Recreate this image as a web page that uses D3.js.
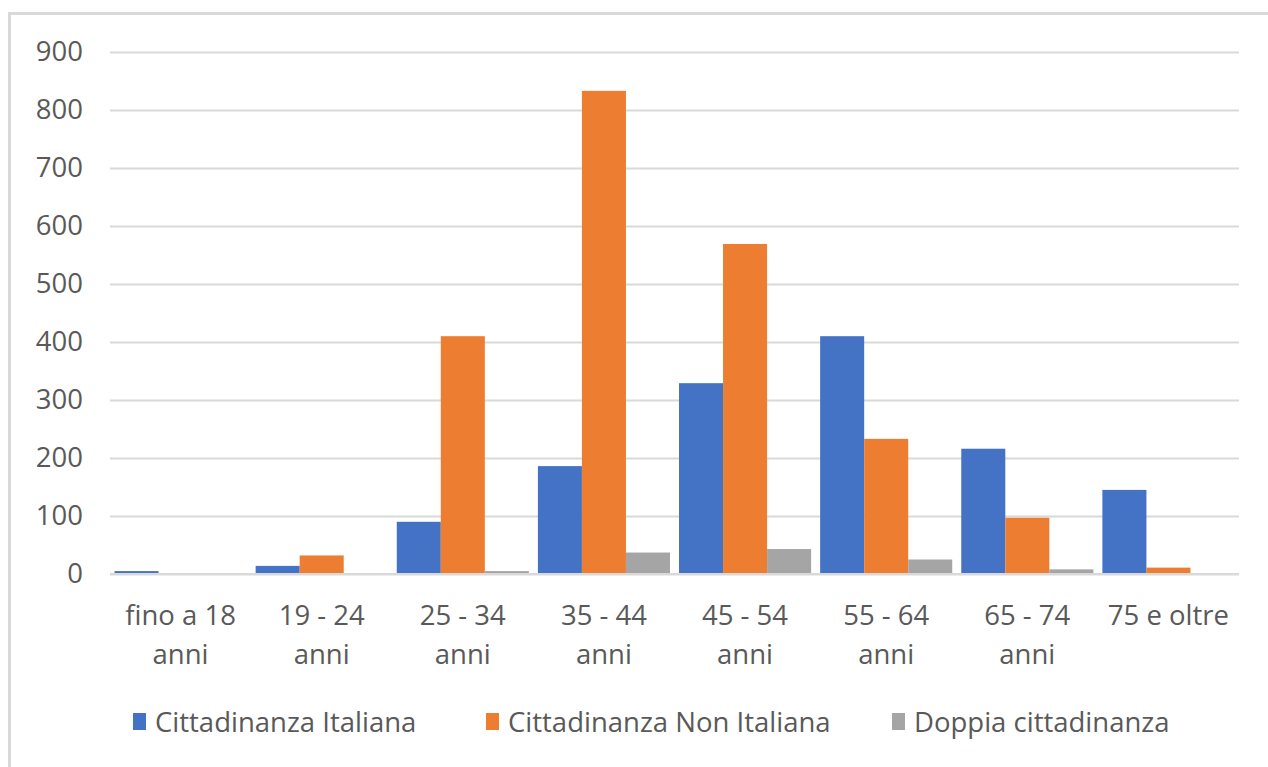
<!DOCTYPE html>
<html>
<head>
<meta charset="utf-8">
<script src="https://cdn.jsdelivr.net/npm/d3@7"></script>
<style>
  body { margin: 0; background: #fff; }
  text { font-family: "Open Sans", sans-serif; fill: #595959; }
</style>
</head>
<body>
<div id="chart"></div>
<script>
const categories = ['fino a 18 anni', '19 - 24 anni', '25 - 34 anni', '35 - 44 anni', '45 - 54 anni', '55 - 64 anni', '65 - 74 anni', '75 e oltre'];
const seriesNames = ['Cittadinanza Italiana', 'Cittadinanza Non Italiana', 'Doppia cittadinanza'];
const italiana = [5, 14, 90, 186, 329, 410, 216, 145];
const nonItaliana = [0, 32, 410, 833, 569, 233, 97, 11];
const doppia = [0, 0, 5, 37, 43, 25, 8, 0];
const yTicks = [0, 100, 200, 300, 400, 500, 600, 700, 800, 900];
const colours = ['#4472c4', '#ed7d31', '#a5a5a5'];

const W = 1268, H = 767;
const margin = { top: 52, bottom: 193, left: 110, right: 29 };
const width = W - margin.left - margin.right;
const height = H - margin.top - margin.bottom;
const fontSize = '27.5px';

const svg = d3.select('#chart').append('svg')
  .attr('width', W)
  .attr('height', H);

// chart area border (right and bottom edges fall outside the picture)
svg.append('rect')
  .attr('x', 9.5).attr('y', 13.5)
  .attr('width', W + 20).attr('height', H + 20)
  .attr('fill', 'none')
  .attr('stroke', '#d9d9d9')
  .attr('stroke-width', 3);

const g = svg.append('g').attr('transform', `translate(${margin.left},${margin.top})`);

const x0 = d3.scaleBand().domain(categories).range([0, width]).paddingInner(0.064).paddingOuter(0.032);
const x1 = d3.scaleBand().domain(seriesNames).range([0, x0.bandwidth()]);
const y = d3.scaleLinear().domain([0, 900]).range([height, 0]);

// gridlines
g.append('g')
  .call(d3.axisLeft(y).tickValues(yTicks).tickSize(-width).tickFormat(''))
  .call(a => a.select('.domain').remove())
  .call(a => a.selectAll('line').attr('stroke', '#d9d9d9').attr('stroke-width', 2));

// y labels
g.append('g')
  .call(d3.axisLeft(y).tickValues(yTicks).tickSize(0).tickPadding(27))
  .call(a => a.select('.domain').remove())
  .call(a => a.selectAll('text').style('font-size', fontSize).attr('fill', '#595959'));

const rows = categories.map((c, i) => ({ cat: c, values: [italiana[i], nonItaliana[i], doppia[i]] }));

g.selectAll('.group')
  .data(rows)
  .enter()
  .append('g')
  .attr('class', 'group')
  .attr('transform', d => `translate(${x0(d.cat)},0)`)
  .selectAll('rect')
  .data(d => d.values.map((v, j) => ({ name: seriesNames[j], value: v, colour: colours[j] })))
  .enter()
  .append('rect')
  .attr('x', d => x1(d.name))
  .attr('y', d => y(d.value))
  .attr('width', x1.bandwidth())
  .attr('height', d => height - y(d.value))
  .attr('fill', d => d.colour);

// x axis line
g.append('line')
  .attr('x1', 0).attr('x2', width)
  .attr('y1', height).attr('y2', height)
  .attr('stroke', '#d9d9d9').attr('stroke-width', 2);

// x labels, wrapped in two lines
const xl = g.append('g').attr('transform', `translate(0,${height})`);
categories.forEach(c => {
  const parts = c.endsWith(' anni') ? [c.slice(0, -5), 'anni'] : [c];
  const t = xl.append('text')
    .attr('x', x0(c) + x0.bandwidth() / 2)
    .attr('y', 51)
    .attr('text-anchor', 'middle')
    .style('font-size', fontSize);
  parts.forEach((p, k) => {
    t.append('tspan').attr('x', x0(c) + x0.bandwidth() / 2).attr('dy', k === 0 ? 0 : 39).text(p);
  });
});

// legend
const legendX = [133, 486, 892];
const legend = svg.append('g').attr('transform', 'translate(0,722)');
seriesNames.forEach((s, i) => {
  legend.append('rect')
    .attr('x', legendX[i]).attr('y', -9)
    .attr('width', 13).attr('height', 17)
    .attr('fill', colours[i]);
  legend.append('text')
    .attr('x', legendX[i] + 22)
    .attr('y', 10)
    .style('font-size', fontSize)
    .text(s);
});
</script>
</body>
</html>
